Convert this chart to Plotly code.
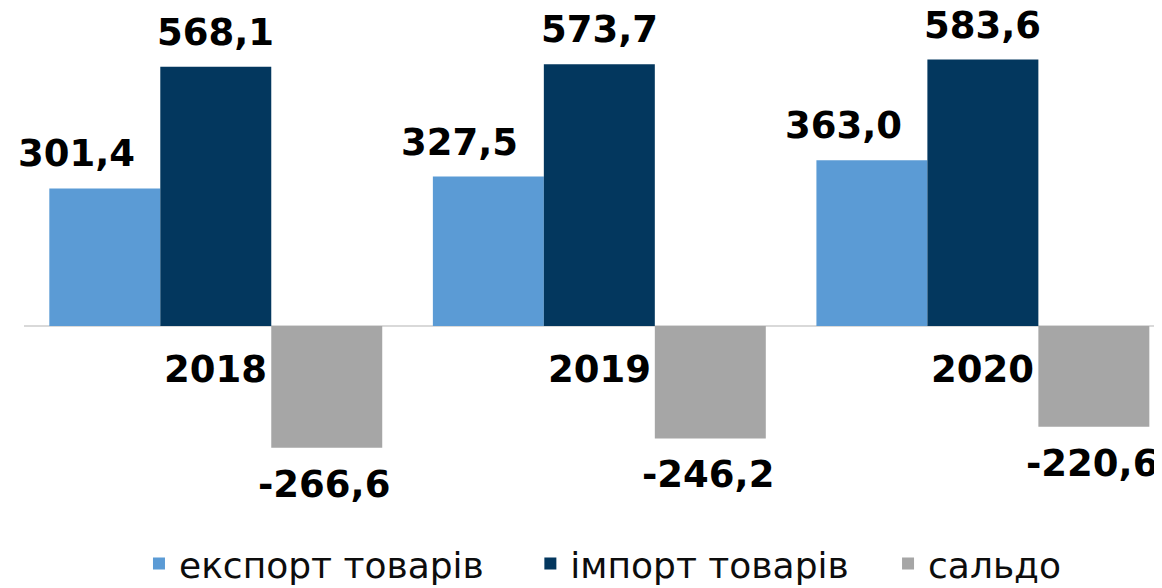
import plotly.graph_objects as go

years = ["2018", "2019", "2020"]
export_vals = [301.4, 327.5, 363.0]
import_vals = [568.1, 573.7, 583.6]
saldo_vals = [-266.6, -246.2, -220.6]

series_names = ["експорт товарів", "імпорт товарів", "сальдо"]
colors = ["#5b9bd5", "#03375e", "#a6a6a6"]
legend_pad = ["\u00a0" * 3 + "\u2009", "\u00a0" * 3, ""]


def fmt(v):
    return f"{v:.1f}".replace(".", ",")


fig = go.Figure()
for name, pad, vals, col in zip(series_names, legend_pad, [export_vals, import_vals, saldo_vals], colors):
    fig.add_trace(go.Bar(x=years, y=vals, name=name + pad, marker_color=col, marker_line_width=0))

num_font = dict(family="DejaVu Sans", size=37, color="#000000")
bar_w = (1 - 0.132) / 3

annotations = []
for i, y in enumerate(years):
    # export label sits a bit left of its bar
    annotations.append(dict(x=i - bar_w - 0.075, y=export_vals[i], text="<b>" + fmt(export_vals[i]) + "</b>",
                            showarrow=False, yanchor="bottom", yshift=11, font=num_font))
    annotations.append(dict(x=i, y=import_vals[i], text="<b>" + fmt(import_vals[i]) + "</b>",
                            showarrow=False, yanchor="bottom", yshift=11, font=num_font))
    annotations.append(dict(x=i + bar_w - 0.006, y=saldo_vals[i], text="<b>" + fmt(saldo_vals[i]) + "</b>",
                            showarrow=False, yanchor="top", yshift=-13, font=num_font))
    annotations.append(dict(x=i, y=0, text="<b>" + y + "</b>",
                            showarrow=False, yanchor="top", yshift=-20, font=num_font))

# page body has an 8px margin, so the figure is 8px smaller each way
fig.update_layout(
    width=1154, height=580,
    margin=dict(l=16, r=0, t=35, b=125, autoexpand=False),
    paper_bgcolor="white", plot_bgcolor="white",
    barmode="group", bargap=0.132, bargroupgap=0,
    xaxis=dict(range=[-0.5, 2.467], showticklabels=False, showgrid=False, showline=False, ticks=""),
    yaxis=dict(range=[-300, 620], showticklabels=False, showgrid=False, zeroline=True,
               zerolinecolor="#d9d9d9", zerolinewidth=2),
    showlegend=True,
    legend=dict(orientation="h", xref="container", yref="container", x=0.1135, xanchor="left",
                y=0.042, yanchor="middle", font=dict(family="DejaVu Sans", size=36, color="#0d0d0d"),
                bgcolor="rgba(0,0,0,0)"),
    annotations=annotations,
)

fig.write_html("out.html")
